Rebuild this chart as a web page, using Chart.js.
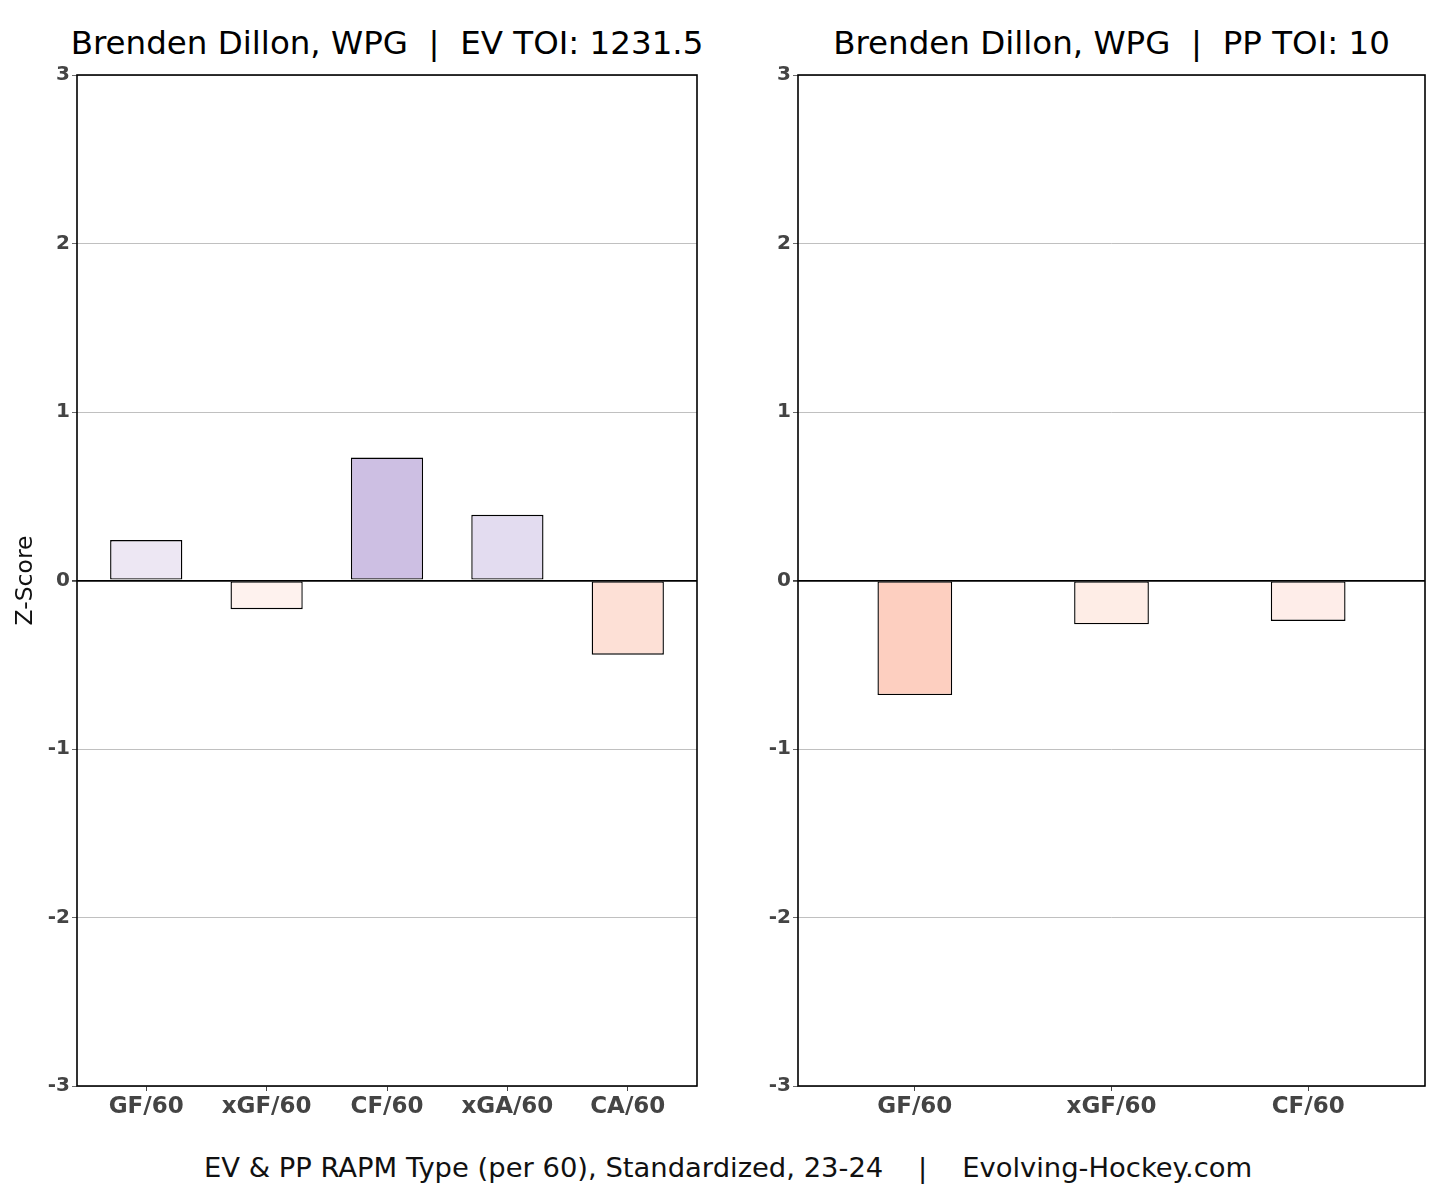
<!DOCTYPE html>
<html lang="en">
<head>
<meta charset="UTF-8">
<title>Brenden Dillon RAPM</title>
<script src="https://cdn.jsdelivr.net/npm/chart.js@4.4.1/dist/chart.umd.min.js"></script>
<style>
  *{margin:0;padding:0;box-sizing:border-box;}
  body{background:#fff;width:1456px;height:1199px;position:relative;overflow:hidden;font-family:"DejaVu Sans",sans-serif;}
  .box{position:absolute;top:0;width:728px;height:1140px;}
  #leftBox{left:0;}
  #rightBox{left:728px;}
  .ttl{position:absolute;top:24px;font-size:32.5px;line-height:1.2;color:#000;white-space:pre;transform:translateX(-50%);}
  #evTitle{left:387px;}
  #ppTitle{left:1111.5px;}
  #caption{position:absolute;left:0;width:1456px;top:1152px;text-align:center;font-size:27.4px;color:#111;white-space:pre;}
</style>
</head>
<body>
  <div class="ttl" id="evTitle">Brenden Dillon, WPG  |  EV TOI: 1231.5</div>
  <div class="ttl" id="ppTitle">Brenden Dillon, WPG  |  PP TOI: 10</div>
  <div class="box" id="leftBox"><canvas id="evChart"></canvas></div>
  <div class="box" id="rightBox"><canvas id="ppChart"></canvas></div>
  <div id="caption">EV &amp; PP RAPM Type (per 60), Standardized, 23-24    |    Evolving-Hockey.com</div>

<script>
// EV (left panel)
const evLabels = ["GF/60", "xGF/60", "CF/60", "xGA/60", "CA/60"];
const evValues = [0.24, -0.17, 0.73, 0.39, -0.44];
const evColors = ["#ede7f3", "#fef2ee", "#cdbfe3", "#e3dcf0", "#fde0d6"];

// PP (right panel)
const ppLabels = ["GF/60", "xGF/60", "CF/60"];
const ppValues = [-0.68, -0.26, -0.24];
const ppColors = ["#fdcfc0", "#feede6", "#feede9"];

const yTicks = [-3, -2, -1, 0, 1, 2, 3];

const tickGray = "#444444";
Chart.defaults.font.family = "'DejaVu Sans', sans-serif";
Chart.defaults.animation = false;

// full black box round the plot, like matplotlib spines
const framePlugin = {
  id: "frame",
  afterDraw(chart){
    const a = chart.chartArea, c = chart.ctx;
    c.save();
    c.strokeStyle = "#000";
    c.lineWidth = 1.6;
    c.strokeRect(a.left, a.top, a.right - a.left, a.bottom - a.top);
    c.restore();
  }
};

function makeChart(id, labels, values, colors, cfg){
  const pts = values.map((v, i) => ({x: i, y: v}));
  return new Chart(document.getElementById(id), {
    type: "bar",
    plugins: [framePlugin],
    data: {
      datasets: [{
        data: pts,
        backgroundColor: colors,
        borderColor: "#000",
        borderWidth: 1.4,
        borderSkipped: false,
        categoryPercentage: 1,
        barPercentage: cfg.barPct
      }]
    },
    options: {
      responsive: true,
      maintainAspectRatio: false,
      layout: {padding: {right: 31, top: 75, bottom: 0, left: 0}},
      plugins: {
        legend: {display: false},
        tooltip: {enabled: false},
        title: {display: false}
      },
      scales: {
        x: {
          type: "linear",
          offset: false,
          min: -cfg.margin,
          max: labels.length - 1 + cfg.margin,
          afterBuildTicks: s => { s.ticks = labels.map((l, i) => ({value: i})); },
          afterFit: s => { s.height = 54; },
          grid: {drawOnChartArea: false, tickLength: 5, tickColor: tickGray, offset: false},
          border: {display: false},
          ticks: {
            color: tickGray,
            font: {size: 23, weight: "bold"},
            padding: 2,
            maxRotation: 0,
            autoSkip: false,
            callback: v => labels[v]
          }
        },
        y: {
          min: -3,
          max: 3,
          afterBuildTicks: s => { s.ticks = yTicks.map(v => ({value: v})); },
          afterFit: s => { s.width = cfg.yWidth; },
          grid: {
            color: c => c.tick.value === 0 ? "#000" : "#b0b0b0",
            lineWidth: c => c.tick.value === 0 ? 1.8 : 0.8,
            tickLength: 5,
            tickColor: tickGray
          },
          border: {display: false},
          ticks: {
            color: tickGray,
            font: {size: 20, weight: "bold"},
            padding: 2
          },
          title: {
            display: cfg.yTitle,
            text: "Z-Score",
            color: "#111",
            font: {size: 23.5, weight: "normal"},
            padding: {top: 12, bottom: 0}
          }
        }
      }
    }
  });
}

makeChart("evChart", evLabels, evValues, evColors, {
  barPct: 0.6, margin: 0.575, yWidth: 77, yTitle: true
});
makeChart("ppChart", ppLabels, ppValues, ppColors, {
  barPct: 0.38, margin: 0.594, yWidth: 70, yTitle: false
});
</script>
</body>
</html>
